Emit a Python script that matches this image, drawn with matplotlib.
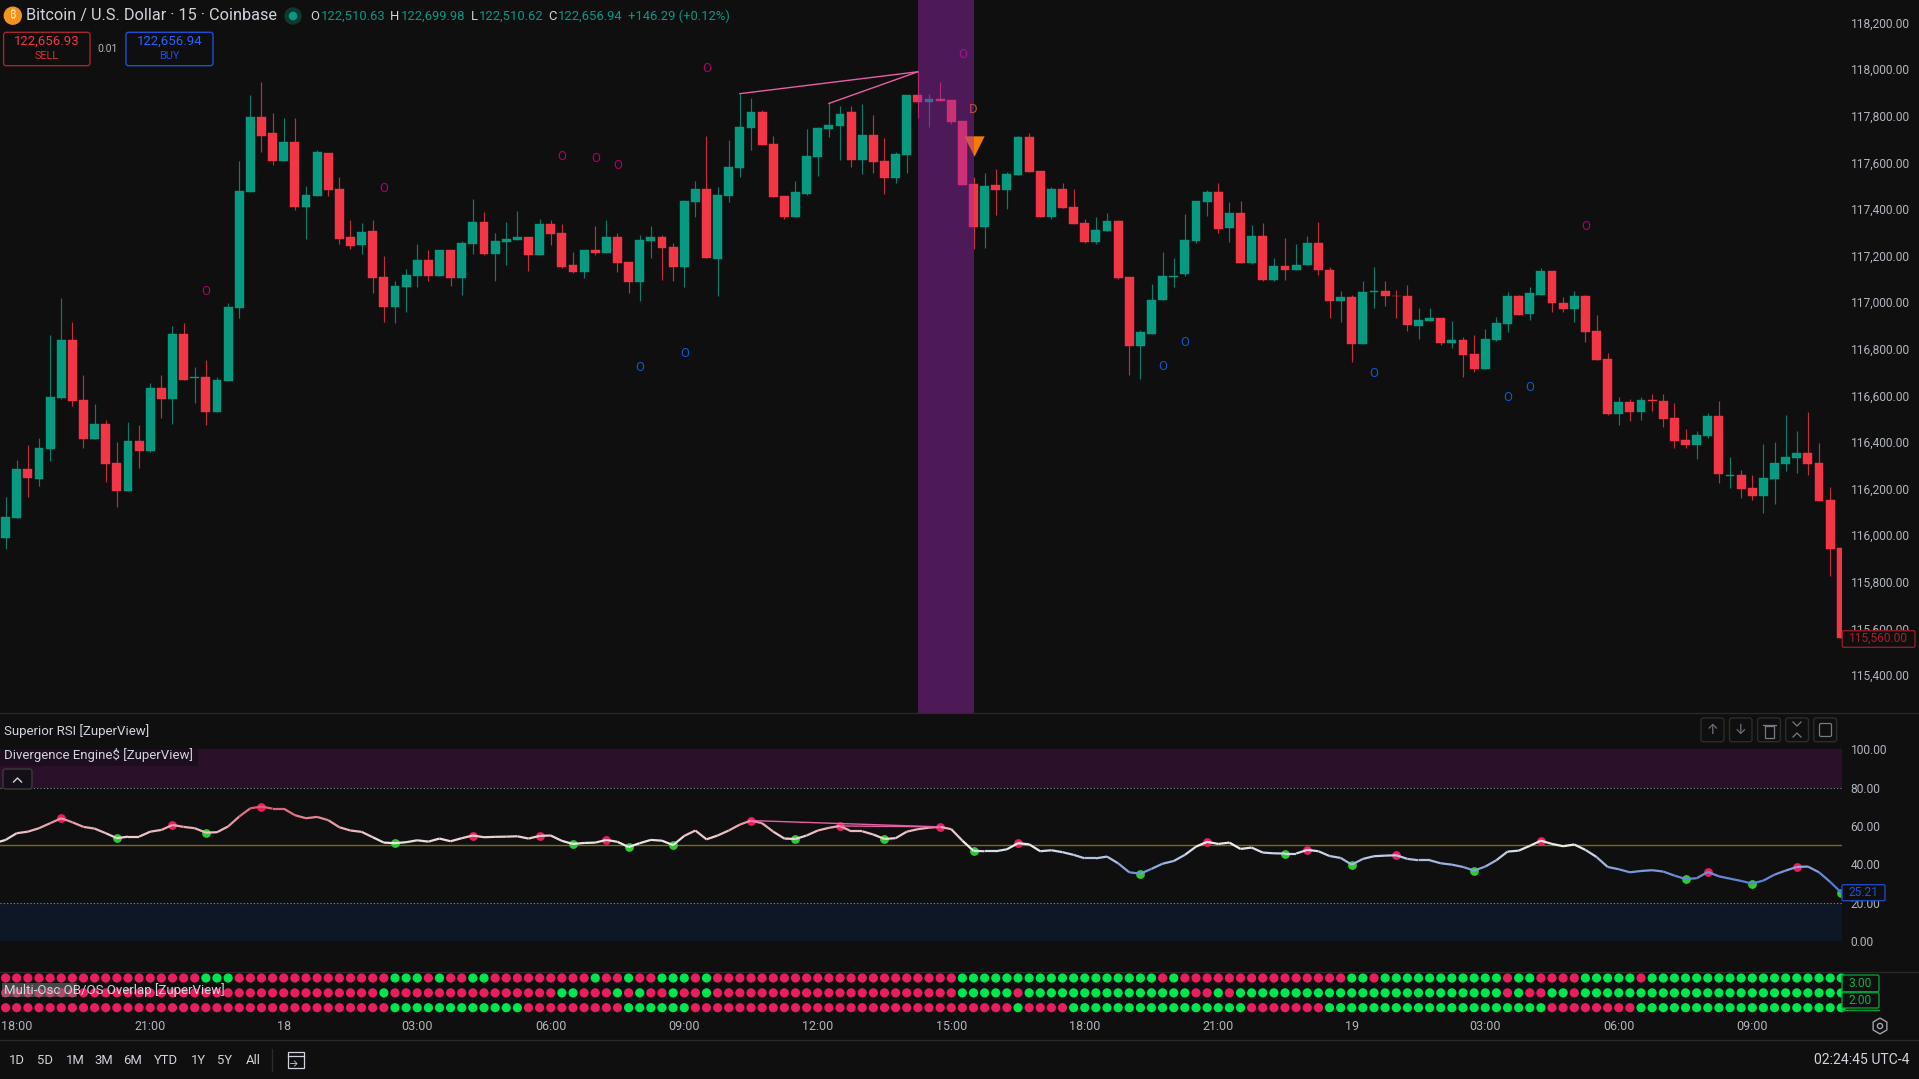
import matplotlib
matplotlib.use("Agg")
import matplotlib.pyplot as plt
import numpy as np
from matplotlib.collections import LineCollection
from matplotlib.colors import LinearSegmentedColormap, Normalize
from matplotlib.patches import FancyBboxPatch, Rectangle, Circle

OPEN = [115987,116072,116284,116241,116370,116589,116839,116580,116413,116477,
116310,116190,116404,116361,116631,116584,116865,116675,116679,116529,
116662,116977,117472,117795,117726,117606,117688,117408,117455,117641,
117485,117279,117244,117305,117107,116979,117067,117112,117180,117112,
117223,117103,117249,117343,117206,117257,117266,117279,117202,117335,
117296,117159,117129,117223,117210,117279,117172,117086,117262,117279,
117236,117150,117429,117485,117184,117455,117575,117748,117817,117679,
117455,117365,117463,117623,117743,117756,117816,117610,117717,117604,
117533,117631,117889,117859,117870,117867,117777,117507,117323,117503,
117481,117546,117709,117563,117364,117486,117408,117338,117257,117304,
117347,117107,116811,116862,117008,117110,117120,117261,117428,117471,
117317,117381,117167,117283,117094,117157,117137,117158,117255,117140,
117004,117024,116822,117042,117049,117028,117028,116899,116921,116934,
116826,116838,116778,116713,116838,116908,117028,116951,117032,117135,
116997,116972,117028,116876,116756,116520,116572,116529,116580,116576,
116503,116409,116387,116426,116512,116255,116257,116203,116169,116241,
116306,116332,116353,116310,116151,115945]
CLOSE = [116077,116284,116245,116374,116593,116839,116576,116413,116477,116305,
116190,116404,116361,116631,116584,116865,116666,116678,116529,116666,
116980,117478,117795,117714,117606,117688,117408,117459,117644,117482,
117273,117243,117300,117103,116979,117071,117116,117180,117112,117223,
117103,117253,117343,117206,117262,117270,117279,117202,117335,117292,
117150,117129,117223,117210,117279,117167,117086,117266,117279,117232,
117150,117433,117485,117189,117459,117579,117752,117817,117675,117450,
117365,117472,117626,117746,117760,117807,117610,117717,117601,117533,
117634,117889,117859,117870,117865,117773,117503,117323,117498,117481,
117550,117709,117559,117364,117486,117404,117334,117257,117308,117347,
117102,116811,116873,117011,117114,117113,117265,117433,117471,117313,
117381,117167,117283,117094,117157,117137,117161,117255,117137,117004,
117024,116822,117045,117049,117025,117025,116901,116924,116932,116826,
116838,116775,116713,116842,116912,117028,116946,117041,117135,116995,
116972,117028,116874,116753,116520,116572,116529,116580,116578,116499,
116405,116387,116430,116512,116263,116258,116199,116169,116246,116310,
116336,116353,116306,116147,115941,115560]
HIGH = [116162,116323,116387,116417,116859,117020,116916,116687,116563,116494,
116400,116486,116473,116653,116687,116897,116909,116722,116752,116677,
116998,117605,117889,117945,117812,117791,117791,117499,117653,117641,
117538,117353,117339,117353,117197,117089,117142,117249,117223,117223,
117223,117262,117442,117386,117296,117343,117390,117279,117356,117352,
117335,117214,117223,117326,117352,117296,117172,117287,117326,117287,
117253,117438,117519,117714,117493,117695,117895,117877,117825,117714,
117455,117519,117742,117754,117853,117840,117840,117849,117802,117703,
117643,117889,117989,117893,117943,117867,117777,117537,117554,117571,
117559,117713,117726,117563,117494,117511,117486,117357,117364,117385,
117351,117107,116882,117077,117214,117188,117377,117433,117480,117510,
117428,117433,117330,117338,117188,117277,117248,117283,117343,117152,
117047,117032,117089,117150,117089,117051,117072,116976,116976,116934,
116921,116849,116859,116886,116938,117045,117032,117067,117148,117135,
117022,117049,117032,116946,116782,116593,116585,116593,116606,116606,
116568,116456,116447,116525,116576,116336,116280,116259,116392,116400,
116516,116447,116529,116396,116207,115945]
LOW = [115940,116072,116164,116211,116318,116584,116554,116374,116413,116228,
116121,116190,116288,116357,116503,116477,116666,116567,116473,116529,
116662,116934,117472,117645,117589,117606,117396,117270,117455,117456,
117249,117227,117206,117039,116913,116910,116960,117067,117090,117112,
117071,117033,117206,117203,117093,117159,117266,117133,117202,117245,
117146,117124,117103,117202,117210,117129,117039,117004,117189,117094,
117090,117067,117365,117189,117026,117429,117536,117653,117675,117450,
117356,117365,117458,117541,117709,117610,117580,117550,117554,117463,
117511,117554,117790,117752,117865,117764,117503,117227,117231,117374,
117400,117546,117559,117364,117355,117404,117334,117252,117248,117304,
117098,116686,116669,116862,117008,117064,117111,117252,117368,117295,
117257,117167,117162,117089,117089,117094,117137,117158,117115,116934,
116915,116745,116822,116975,116984,116931,116876,116844,116921,116818,
116805,116681,116702,116713,116835,116874,116946,116925,117032,116959,
116959,116916,116831,116753,116516,116475,116492,116496,116533,116465,
116376,116376,116329,116417,116224,116203,116160,116151,116096,116134,
116276,116267,116259,116147,115825,115560]

RSI = [52.7,56.2,57,58.8,61.4,64,61.9,59.5,58.6,56.2,
53.6,54.4,54.4,57,57.9,60.5,59.5,58.8,56.5,56.7,
59.7,64.9,69.2,70.1,69,69,65.6,64,64.7,63,
59.3,57.6,56.9,54.1,51.3,51,51.5,52.5,51.8,53.4,
52,53.6,55,54.1,54.3,54.4,54.6,53.4,54.8,55,
52.2,50.6,51.1,51.3,52.7,51.7,49,51,52.7,52.3,
50,54.8,57.6,53,55,57.6,60.7,62.8,61.4,57,
53.4,53.2,55,57.6,59,60,57.2,57.2,55.5,53.2,
53.6,57,58.3,59.1,59.5,58.3,52.3,47,46.8,46.8,
47.8,51,50.4,46.8,47.3,46.3,44.9,43.1,43.1,44,
40.5,35.8,35.1,37.6,40.3,41.7,44.9,49.2,51.7,50.6,
51.3,48,48.7,46.1,45.7,45.6,45.6,47.5,46.8,44.3,
43.3,39.8,42.8,44.2,44.5,44.7,42.8,42.1,42.1,40.5,
39.8,38.6,36.7,38.8,42.1,46.6,47.1,49.6,52.3,50.6,
49.4,50.3,47.5,43.8,38.6,37.4,35.8,36.5,36.9,36.2,
34.1,32.3,32.7,36,33.7,32.5,31.3,29.9,31.5,34.6,
36.7,38.6,38.8,35.8,30.8,25.21]
RSI_BEFORE_FIRST_BAR = 51.0

RSI_PIVOT_HIGH = [5,15,23,42,48,54,67,75,84,91,108,117,125,138,153,161]
RSI_PIVOT_LOW = [10,18,35,51,56,60,71,79,87,102,115,121,132,151,157,165]

ROW_3 = ("0000000000" "0000000011" "1000000000" "0000011101" "0011000000"
         "0001001001" "1101000000" "0000000000" "0000001111" "1111111111"
         "1111010000" "0000000000" "0110111111" "1111101100" "0011111011"
         "1111111111" "111111")
ROW_2 = ("0000000000" "0000000000" "0000000000" "0000100000" "0000000000"
         "1100010100" "1001000000" "0000000000" "0000001111" "1011111111"
         "1111111001" "0111111111" "1111111111" "1111101001" "1011111111"
         "1111111111" "111111")
ROW_1 = ("0000000000" "0000000000" "0000000000" "0000011111" "1111111000"
         "0000001111" "1100000000" "0000000000" "0000000000" "0100001111"
         "1111111111" "1100000001" "1111111111" "1111111110" "0000000111"
         "1111111111" "111111")

SELL_MARK_BAR = [18,34,50,53,55,63,86,142]
SELL_MARK_PRICE = [117044,117486,117624,117616,117586,118004,118065,117323]
BUY_MARK_BAR = [57,61,104,106,123,135,137]
BUY_MARK_PRICE = [116718,116782,116722,116825,116692,116589,116636]
DIV_PRICE_BARS = [(66,82),(74,82)]
DIV_RSI_BARS = [(67,84),(75,84)]
SIGNAL_BAR = 87
SIGNAL_PRICE = 117672
SIGNAL_D_PRICE = 117825
BAND_BARS = (82,87)

PRICE_TICKS = [115400,115600,115800,116000,116200,116400,116600,116800,117000,
               117200,117400,117600,117800,118000,118200]
RSI_TICKS = [0,20,40,60,80,100]
TIME_BARS = [1,13,25,37,49,61,73,85,97,109,121,133,145,157]
TIME_LABELS = ["18:00","21:00","18","03:00","06:00","09:00","12:00","15:00",
               "18:00","21:00","19","03:00","06:00","09:00"]
RANGES = ["1D","5D","1M","3M","6M","YTD","1Y","5Y","All"]
RANGE_POS = [17,45,75,104,133,166,198,225,253]

BG = "#0f0f0f"; GREEN = "#089981"; RED = "#f23645"; TXT = "#b2b5be"; LINE = "#2a2a2a"
plt.rcParams["font.family"] = ["Roboto", "Noto Sans", "Inter", "Open Sans", "Lato", "DejaVu Sans"]
PX = 0.72  # points per pixel at dpi 100
W, H = 1919, 1079
fig = plt.figure(figsize=(W/100, H/100), dpi=100, facecolor=BG)

def pane(top, bottom, right=1841.5):
    ax = fig.add_axes([0, 1-bottom/H, right/W, (bottom-top)/H], facecolor=BG)
    for s in ax.spines.values():
        s.set_visible(False)
    ax.set_xlim(-0.503, 165.02)
    ax.xaxis.set_visible(False)
    ax.yaxis.tick_right()
    ax.tick_params(axis="y", length=0, pad=6.5, labelcolor=TXT, labelsize=12*PX)
    return ax

x = np.arange(len(OPEN))
o, h, l, c = map(np.array, (OPEN, HIGH, LOW, CLOSE))
up = c >= o

# ---------- price pane
ax1 = pane(0, 713)
ax1.set_ylim(115237, 118297)
ax1.vlines(x[up], l[up], h[up], color=GREEN, lw=0.85, alpha=0.8, zorder=2)
ax1.vlines(x[~up], l[~up], h[~up], color=RED, lw=0.85, alpha=0.8, zorder=2)
for mask, col in ((up, GREEN), (~up, RED)):
    ax1.bar(x[mask], (c-o)[mask], bottom=o[mask], width=0.8, color=col,
            edgecolor=col, linewidth=0.3, zorder=3)
ax1.set_yticks(PRICE_TICKS, [f"{v:,.2f}" for v in PRICE_TICKS])
for a, b in DIV_PRICE_BARS:
    ax1.plot([a, b], [HIGH[a], HIGH[b]], color="#e75fa5", lw=1.0, zorder=4)
for i, p in zip(SELL_MARK_BAR, SELL_MARK_PRICE):
    ax1.text(i, p, "O", color="#b0006a", fontsize=13*PX, ha="center", va="center", zorder=4)
for i, p in zip(BUY_MARK_BAR, BUY_MARK_PRICE):
    ax1.text(i, p, "O", color="#0d5ad0", fontsize=13*PX, ha="center", va="center", zorder=4)
ax1.scatter([SIGNAL_BAR], [SIGNAL_PRICE], marker="v", s=215, color="#f57c00", linewidths=0, zorder=4)
ax1.text(SIGNAL_BAR, SIGNAL_D_PRICE, "D", color="#c0651a", fontsize=13*PX, ha="center", va="center", zorder=4)
ax1.axvspan(*BAND_BARS, color="#9c27b0", alpha=0.45, linewidth=0, zorder=5)

# ---------- RSI pane
ax2 = pane(713, 972)
ax2.set_ylim(-16.2, 118.9)
ax2.axhspan(80, 100, color="#2a1028", linewidth=0, zorder=1)
ax2.axhspan(0, 20, color="#0e1726", linewidth=0, zorder=1)
ax2.axhline(80, color="#8a8a8a", lw=0.8, ls=(0, (1, 2)), zorder=2)
ax2.axhline(20, color="#8a8a8a", lw=0.8, ls=(0, (1, 2)), zorder=2)
ax2.axhline(50, color="#7a6a14", lw=1.0, zorder=2)
ax2.set_yticks(RSI_TICKS, [f"{v:.2f}" for v in RSI_TICKS])
rsi = np.array(RSI)
ax2.scatter(RSI_PIVOT_HIGH, rsi[RSI_PIVOT_HIGH], s=40, color="#e91e5f", linewidths=0, zorder=3)
ax2.scatter(RSI_PIVOT_LOW, rsi[RSI_PIVOT_LOW], s=40, color="#2fc934", linewidths=0, zorder=3)
cmap = LinearSegmentedColormap.from_list("rsi", [
    (0.0, "#3f6fe0"), (0.22, "#6f90d8"), (0.55, "#eeeeee"), (0.78, "#e8a8b0"), (1.0, "#e05a70")])
rx = np.concatenate([[-1], x])
ry = np.concatenate([[RSI_BEFORE_FIRST_BAR], rsi])
pts = np.column_stack([rx, ry]).reshape(-1, 1, 2)
segs = np.concatenate([pts[:-1], pts[1:]], axis=1)
lc = LineCollection(segs, cmap=cmap, norm=Normalize(25, 70), linewidths=1.6, zorder=4)
lc.set_array((ry[:-1]+ry[1:])/2)
ax2.add_collection(lc)
for a, b in DIV_RSI_BARS:
    ax2.plot([a, b], [RSI[a], RSI[b]], color="#e75fa5", lw=1.0, zorder=5)

# ---------- dots pane
ax3 = pane(972, 1013)
ax3.set_ylim(0.643, 3.404)
ax3.set_yticks([])
for row, val in ((ROW_3, 3), (ROW_2, 2), (ROW_1, 1)):
    cols = ["#00e64d" if ch == "1" else "#e91e5f" for ch in row]
    ax3.scatter(x, [val]*len(x), s=44, c=cols, linewidths=0, zorder=3, clip_on=False)
ax3.xaxis.set_visible(True)
ax3.set_xticks(TIME_BARS, TIME_LABELS)
ax3.tick_params(axis="x", length=0, pad=5, labelcolor=TXT, labelsize=12.5*PX)

# ---------- chrome, in pixel coordinates
ov = fig.add_axes([0, 0, 1, 1], zorder=10)
ov.set_xlim(0, W); ov.set_ylim(H, 0); ov.axis("off"); ov.patch.set_visible(False)

def T(px, py, s, color=TXT, size=12, ha="left", **kw):
    return ov.text(px, py, s, color=color, fontsize=size*PX, ha=ha, va="center", **kw)

def box(x0, y0, x1, y1, edge, fill=BG, lw=1.0, r=2.5):
    ov.add_patch(FancyBboxPatch((x0+r, y0+r), x1-x0-2*r, y1-y0-2*r, boxstyle=f"round,pad={r}",
                                edgecolor=edge, facecolor=fill, linewidth=lw))

for yy in (713, 972, 1040):
    ov.plot([0, W], [yy, yy], color=LINE, lw=0.9)

# header
ov.add_patch(Circle((12.8, 15.7), 8.5, color="#f7931a"))
T(12.8, 15.7, "₿", "#ffe9c8", 11, "center", family=["Noto Sans", "Inter", "Open Sans", "Lato", "Liberation Sans", "DejaVu Sans"])
T(26.5, 15.7, "Bitcoin / U.S. Dollar · 15 · Coinbase", "#d1d4dc", 16.3)
ov.add_patch(Circle((293, 16), 8, color="#0c3a33"))
ov.add_patch(Circle((293, 16), 3.6, color=GREEN))
for lx, vx, letter, val in ((310.7, 320.4, "O", "122,510.63"), (390, 400.5, "H", "122,699.98"),
                            (470.4, 478.6, "L", "122,510.62"), (548, 558, "C", "122,656.94")):
    T(lx, 16, letter, "#d1d4dc", 13)
    T(vx, 16, val, GREEN, 13)
T(627.5, 16, "+146.29 (+0.12%)", GREEN, 13)
box(3.6, 32.3, 90, 65.7, "#a3252f")
T(47, 41.5, "122,656.93", "#f23645", 13.2, "center")
T(47, 56, "SELL", "#d62c3c", 11, "center")
T(108, 48.7, "0.01", TXT, 10.5, "center")
box(126, 32.3, 213, 65.7, "#1f4fd8")
T(169.5, 41.5, "122,656.94", "#2962ff", 13.2, "center")
T(169.5, 56, "BUY", "#2050e0", 11, "center")

# pane legends
T(4, 730.7, "Superior RSI [ZuperView]", "#d1d4dc", 13.2)
ov.add_patch(Rectangle((0, 749.3), 198, 17, color="#1c0e1c", linewidth=0))
T(4, 754.7, "Divergence Engine$ [ZuperView]", "#d1d4dc", 13.2)
box(3, 769, 32, 789, "#3a3a3a", fill="#14101a")
ov.plot([13.5, 17.5, 21.5], [782, 778, 782], color="#d1d4dc", lw=1.0)
ov.add_patch(Rectangle((2, 983), 75, 14, color="#777777", alpha=0.55, linewidth=0))
T(4, 990, "Multi-Osc OB/OS Overlap [ZuperView]", "#d1d4dc", 13.2)

# pane buttons
for bx0, bx1 in ((1701, 1724), (1729.5, 1752), (1757.6, 1780.4), (1785.7, 1808.5), (1813.8, 1836.6)):
    box(bx0, 718, bx1, 741.7, "#2c2c2c", r=2.5)
T(1712.5, 730, "↑", "#787b86", 14, "center")
T(1740.7, 730, "↓", "#787b86", 14, "center")
ov.add_patch(Rectangle((1765, 726), 9, 12, fill=False, edgecolor="#787b86", lw=0.9))
ov.plot([1763, 1776], [725, 725], color="#787b86", lw=0.9)
ov.plot([1793, 1797, 1801], [722, 726, 722], color="#787b86", lw=0.9)
ov.plot([1793, 1797, 1801], [737, 733, 737], color="#787b86", lw=0.9)
ov.add_patch(FancyBboxPatch((1821, 725), 9, 10, boxstyle="round,pad=1.5", fill=False, edgecolor="#787b86", lw=0.9))

# value tags
box(1842.3, 630.7, 1915, 647.3, "#8e1c24", r=1.5)
T(1878.6, 638.6, "115,560.00", "#a8202c", 12, "center")
box(1842, 884.7, 1885, 900.7, "#1c48c0", r=1.5)
T(1863.5, 892.8, "25.21", "#2154d8", 12, "center")
box(1842, 975, 1879, 991.7, "#049a38", r=1.5)
T(1860.5, 983.3, "3.00", "#03b544", 12, "center")
box(1842, 992.7, 1879, 1008, "#049a38", r=1.5)
T(1860.5, 1000.5, "2.00", "#03b544", 12, "center")
ov.plot([1842, 1879], [1010, 1010], color="#049a38", lw=1.0)

# bottom bar
for p, s in zip(RANGE_POS, RANGES):
    T(p, 1060, s, "#d1d4dc", 13, "center")
ov.plot([272, 272], [1049, 1071], color=LINE, lw=1.0)
ov.add_patch(Rectangle((288, 1052), 16, 16, fill=False, edgecolor="#d1d4dc", lw=0.9))
ov.plot([288, 304], [1056, 1056], color="#d1d4dc", lw=0.9)
T(293, 1064, "→", "#d1d4dc", 10, "center")
T(1909.6, 1060, "02:24:45 UTC-4", "#d1d4dc", 14, "right")
ov.scatter([1880], [1026], marker="h", s=130, facecolor="none", edgecolor="#a0a3ad", linewidths=1.0)
ov.scatter([1880], [1026], marker="o", s=14, facecolor="none", edgecolor="#a0a3ad", linewidths=1.0)

fig.savefig("out.png", dpi=100, facecolor=BG)
